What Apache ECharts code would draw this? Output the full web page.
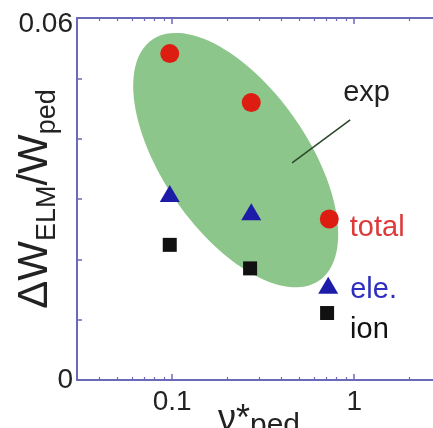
<!DOCTYPE html>
<html>
<head>
<meta charset="utf-8">
<script src="https://cdn.jsdelivr.net/npm/echarts@6/dist/echarts.min.js"></script>
<style>
html,body{margin:0;padding:0;background:#fff;}
#chart{width:433px;height:428px;}
</style>
</head>
<body>
<div id="chart"></div>
<script>
// ---- data ----
const totalX = [0.097, 0.272, 0.73];
const totalY = [0.0541, 0.0460, 0.0267];
const eleX = [0.097, 0.272, 0.72];
const eleY = [0.0309, 0.0279, 0.0157];
const ionX = [0.097, 0.268, 0.71];
const ionY = [0.0224, 0.0185, 0.0111];

// "exp" region: ellipse given by its major-axis end points (data coords) and minor/major ratio
const expAxisX = [0.0776, 0.643];
const expAxisY = [0.0564, 0.0165];
const expWidthRatio = 0.493;
// callout line for "exp" label
const expCalloutX = [0.456, 0.951];
const expCalloutY = [0.0360, 0.0431];

// axis ticks / labels
const xMajorTicks = [0.1, 1];
const xMinorTicks = [0.04, 0.05, 0.06, 0.07, 0.08, 0.09, 0.2, 0.3, 0.4, 0.5, 0.6, 0.7, 0.8, 0.9, 2, 3];
const xTickLabels = [0.1, 1];
const yTickLabels = [0, 0.06];

const FONT = 'Liberation Sans, Arial, Helvetica, sans-serif';
const AXIS_COLOR = '#6a6ab8';

function pairs(xs, ys) { return xs.map((x, i) => [x, ys[i]]); }

function lastLabel(data, text, color, dist, dy) {
  return data.map((d, i) => i === data.length - 1 ? {
    value: d,
    label: { show: true, position: 'right', distance: dist, offset: [0, dy], formatter: text,
      color: color, fontSize: 29, fontFamily: FONT }
  } : { value: d });
}

const baseX = {
  type: 'log', logBase: 10, min: 0.03, max: 3, gridIndex: 0,
  splitLine: { show: false }, nameMoveOverlap: false
};

const chart = echarts.init(document.getElementById('chart'), null, { renderer: 'canvas' });
chart.setOption({
  backgroundColor: '#fff',
  animation: false,
  grid: { left: 77, right: -8, top: 18, bottom: 48, containLabel: false, outerBoundsMode: 'none' },
  xAxis: [
    Object.assign({}, baseX, {
      position: 'bottom',
      axisLine: { show: true, lineStyle: { color: AXIS_COLOR, width: 2 } },
      axisTick: { show: true, inside: true, length: 6, customValues: xMajorTicks, lineStyle: { color: AXIS_COLOR, width: 1.5 } },
      axisLabel: { show: true, customValues: xTickLabels, margin: 8, fontSize: 28, color: '#222', fontFamily: FONT,
        formatter: v => String(+Number(v).toPrecision(3)) },
      name: '{nu|ν*}{sub|ped}', nameLocation: 'middle', nameGap: 19,
      nameTextStyle: {
        color: '#222', fontFamily: FONT,
        rich: {
          nu: { fontSize: 36, lineHeight: 42, fontFamily: FONT, color: '#222' },
          sub: { fontSize: 30, height: 30, lineHeight: 30, verticalAlign: 'bottom', fontFamily: FONT, color: '#222' }
        }
      }
    }),
    Object.assign({}, baseX, {
      position: 'bottom',
      axisLine: { show: false },
      axisTick: { show: true, inside: true, length: 3, customValues: xMinorTicks, lineStyle: { color: AXIS_COLOR, width: 1.2 } },
      axisLabel: { show: false }
    }),
    Object.assign({}, baseX, {
      position: 'top',
      axisLine: { show: true, lineStyle: { color: AXIS_COLOR, width: 2 } },
      axisTick: { show: true, inside: true, length: 6, customValues: xMajorTicks, lineStyle: { color: AXIS_COLOR, width: 1.5 } },
      axisLabel: { show: false }
    }),
    Object.assign({}, baseX, {
      position: 'top',
      axisLine: { show: false },
      axisTick: { show: true, inside: true, length: 3, customValues: xMinorTicks, lineStyle: { color: AXIS_COLOR, width: 1.2 } },
      axisLabel: { show: false }
    })
  ],
  yAxis: [
    {
      type: 'value', min: 0, max: 0.06, interval: 0.01, position: 'left',
      splitLine: { show: false },
      axisLine: { show: true, lineStyle: { color: AXIS_COLOR, width: 2 } },
      axisTick: { show: true, inside: true, length: 5, lineStyle: { color: AXIS_COLOR, width: 1.5 } },
      axisLabel: { show: true, customValues: yTickLabels, margin: 4, fontSize: 28, color: '#222', fontFamily: FONT,
        formatter: v => v === 0 ? '0' : '{t|' + String(+Number(v).toPrecision(3)) + '}',
        rich: { t: { fontSize: 28, fontFamily: FONT, color: '#222', padding: [12, 0, 0, 0] } } },
      name: '{big|ΔW}{sub|ELM}{big|/W}{sub|ped}', nameLocation: 'middle', nameGap: 16, nameRotate: 90,
      nameMoveOverlap: false,
      nameTextStyle: {
        color: '#222', fontFamily: FONT,
        rich: {
          big: { fontSize: 42, lineHeight: 52, fontFamily: FONT, color: '#222' },
          sub: { fontSize: 27, height: 27, lineHeight: 27, verticalAlign: 'bottom', fontFamily: FONT, color: '#222' }
        }
      }
    }
  ],
  series: [
    {
      name: 'exp', type: 'custom', coordinateSystem: 'cartesian2d', xAxisIndex: 0, yAxisIndex: 0,
      z: 1, silent: true,
      data: [[expAxisX[0], expAxisY[0], expAxisX[1], expAxisY[1]]],
      encode: { x: [0, 2], y: [1, 3] },
      renderItem: (params, api) => {
        const p1 = api.coord([api.value(0), api.value(1)]);
        const p2 = api.coord([api.value(2), api.value(3)]);
        const cx = (p1[0] + p2[0]) / 2, cy = (p1[1] + p2[1]) / 2;
        const dx = p2[0] - p1[0], dy = p2[1] - p1[1];
        const a = Math.hypot(dx, dy) / 2, b = a * expWidthRatio;
        const ang = Math.atan2(dy, dx);
        const ca = Math.cos(ang), sa = Math.sin(ang);
        const pts = [];
        const N = 120;
        for (let i = 0; i < N; i++) {
          const t = i / N * Math.PI * 2;
          const ex = a * Math.cos(t), ey = b * Math.sin(t);
          pts.push([cx + ex * ca - ey * sa, cy + ex * sa + ey * ca]);
        }
        return { type: 'polygon', shape: { points: pts }, style: { fill: '#8cc68a', stroke: null } };
      }
    },
    {
      name: 'exp-callout', type: 'custom', coordinateSystem: 'cartesian2d', xAxisIndex: 0, yAxisIndex: 0,
      z: 2, silent: true,
      data: [[expCalloutX[0], expCalloutY[0], expCalloutX[1], expCalloutY[1]]],
      encode: { x: [0, 2], y: [1, 3] },
      renderItem: (params, api) => {
        const p1 = api.coord([api.value(0), api.value(1)]);
        const p2 = api.coord([api.value(2), api.value(3)]);
        return {
          type: 'group',
          children: [
            { type: 'line', shape: { x1: p1[0], y1: p1[1], x2: p2[0], y2: p2[1] },
              style: { stroke: '#2d4a2d', lineWidth: 1.6 } },
            { type: 'text', x: p2[0] - 7, y: p2[1] - 27,
              style: { text: 'exp', fontSize: 29, fontFamily: FONT, fill: '#222', align: 'left', verticalAlign: 'middle' } }
          ]
        };
      }
    },
    {
      name: 'ion', type: 'scatter', xAxisIndex: 0, yAxisIndex: 0, z: 3,
      symbol: 'rect', symbolSize: 14,
      itemStyle: { color: '#111', opacity: 1 },
      data: lastLabel(pairs(ionX, ionY), 'ion', '#111', 16, 17)
    },
    {
      name: 'ele.', type: 'scatter', xAxisIndex: 0, yAxisIndex: 0, z: 4,
      symbol: 'triangle', symbolSize: [20, 17],
      itemStyle: { color: '#1c1ca8', opacity: 1 },
      data: lastLabel(pairs(eleX, eleY), 'ele.', '#2e2ec0', 12, 5)
    },
    {
      name: 'total', type: 'scatter', xAxisIndex: 0, yAxisIndex: 0, z: 5,
      symbol: 'circle', symbolSize: 19,
      itemStyle: { color: '#dd1c12', opacity: 1 },
      data: lastLabel(pairs(totalX, totalY), 'total', '#dd3a3a', 11, 9)
    }
  ]
});
</script>
</body>
</html>
